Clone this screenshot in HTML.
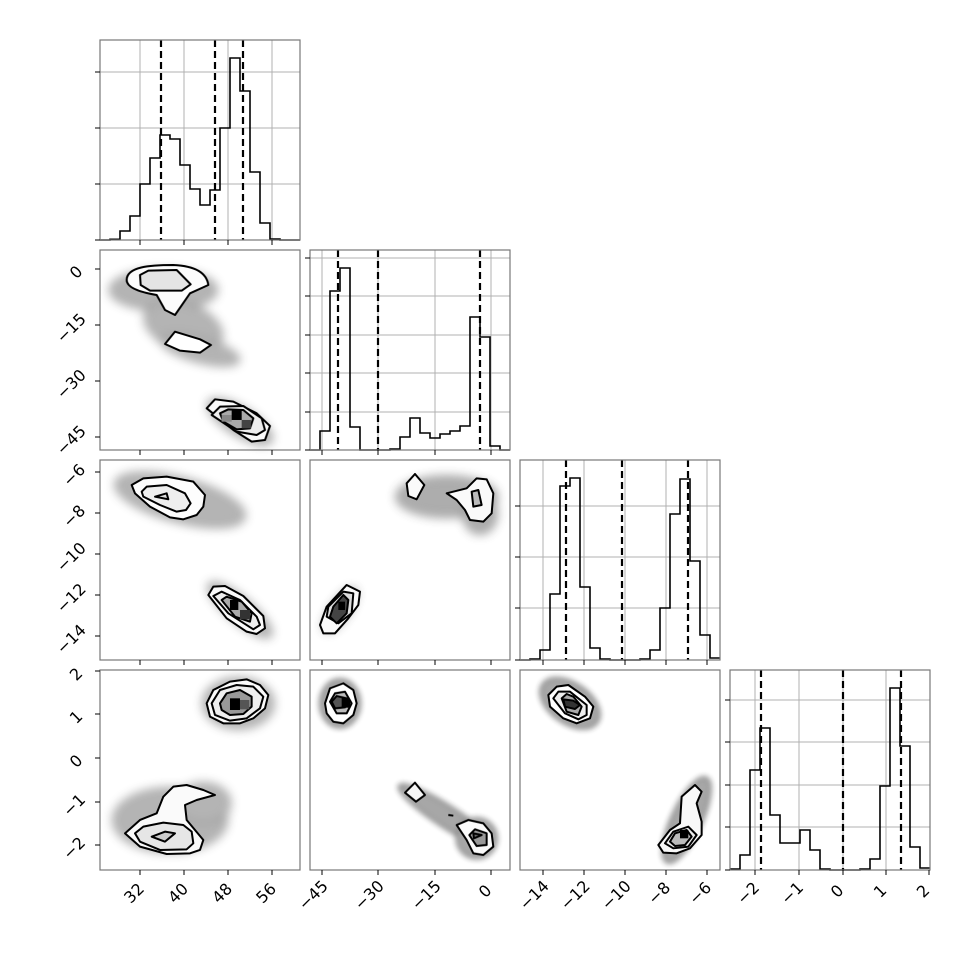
<!DOCTYPE html>
<html><head><meta charset="utf-8"><style>
html,body{margin:0;padding:0;background:#fff;}
svg{display:block;font-family:"DejaVu Sans","Liberation Sans",sans-serif;}
</style></head><body>
<svg width="970" height="970" viewBox="0 0 970 970" xmlns="http://www.w3.org/2000/svg">
<defs>
<filter id="b" x="-50%" y="-50%" width="200%" height="200%"><feGaussianBlur stdDeviation="14"/></filter>
<filter id="b2" x="-50%" y="-50%" width="200%" height="200%"><feGaussianBlur stdDeviation="8"/></filter>
</defs>
<rect width="970" height="970" fill="#fff"/>

<g stroke="#b0b0b0" stroke-width="1">
<line x1="140" y1="40" x2="140" y2="240"/><line x1="184" y1="40" x2="184" y2="240"/><line x1="228" y1="40" x2="228" y2="240"/><line x1="272" y1="40" x2="272" y2="240"/>
<line x1="100" y1="72" x2="300" y2="72"/><line x1="100" y1="128" x2="300" y2="128"/><line x1="100" y1="184" x2="300" y2="184"/>
<line x1="322" y1="250" x2="322" y2="450"/><line x1="378" y1="250" x2="378" y2="450"/><line x1="435" y1="250" x2="435" y2="450"/><line x1="491" y1="250" x2="491" y2="450"/>
<line x1="310" y1="258" x2="510" y2="258"/><line x1="310" y1="296" x2="510" y2="296"/><line x1="310" y1="335" x2="510" y2="335"/><line x1="310" y1="373" x2="510" y2="373"/><line x1="310" y1="412" x2="510" y2="412"/>
<line x1="543" y1="460" x2="543" y2="660"/><line x1="584" y1="460" x2="584" y2="660"/><line x1="625" y1="460" x2="625" y2="660"/><line x1="666" y1="460" x2="666" y2="660"/><line x1="707" y1="460" x2="707" y2="660"/>
<line x1="520" y1="506" x2="720" y2="506"/><line x1="520" y1="557" x2="720" y2="557"/><line x1="520" y1="608" x2="720" y2="608"/>
<line x1="755" y1="670" x2="755" y2="870"/><line x1="799" y1="670" x2="799" y2="870"/><line x1="843" y1="670" x2="843" y2="870"/><line x1="886" y1="670" x2="886" y2="870"/>
<line x1="730" y1="700" x2="930" y2="700"/><line x1="730" y1="742" x2="930" y2="742"/><line x1="730" y1="785" x2="930" y2="785"/><line x1="730" y1="827" x2="930" y2="827"/>
</g>

<g fill="none" stroke="#000" stroke-width="1.6">
<path d="M100,240 L110,240 L110,239.3 L120,239.3 L120,231 L130,231 L130,216 L140,216 L140,184 L150,184 L150,158 L160,158 L160,135 L170,135 L170,139 L180,139 L180,165 L190,165 L190,189 L200,189 L200,205 L210,205 L210,190 L220,190 L220,128 L230,128 L230,58 L240,58 L240,91 L250,91 L250,172 L260,172 L260,223 L270,223 L270,239 L280,239 L280,240 L300,240"/>
<path d="M310,450 L320,450 L320,431 L330,431 L330,291 L340,291 L340,268 L350,268 L350,427 L360,427 L360,450 L390,450 L390,449 L400,449 L400,437 L410,437 L410,418 L420,418 L420,433 L430,433 L430,438 L440,438 L440,434 L450,434 L450,431 L460,431 L460,426 L470,426 L470,317 L480,317 L480,337 L490,337 L490,446 L500,446 L500,450 L510,450"/>
<path d="M520,660 L530,660 L530,659 L540,659 L540,650 L550,650 L550,594 L560,594 L560,486 L570,486 L570,478 L580,478 L580,587 L590,587 L590,648 L600,648 L600,659 L610,659 L610,660 L640,660 L640,659 L650,659 L650,650 L660,650 L660,608 L670,608 L670,514 L680,514 L680,479 L690,479 L690,561 L700,561 L700,635 L710,635 L710,658 L720,658"/>
<path d="M730,869 L740,869 L740,855 L750,855 L750,770 L760,770 L760,728 L770,728 L770,815 L780,815 L780,843 L800,843 L800,830 L810,830 L810,850 L820,850 L820,869 L830,869 L830,870 L860,870 L860,869 L870,869 L870,859 L880,859 L880,786 L890,786 L890,688 L900,688 L900,746 L910,746 L910,847 L920,847 L920,868 L930,868"/>
</g>
<g stroke="#000" stroke-width="2.2" stroke-dasharray="7,4">
<line x1="161" y1="40" x2="161" y2="240"/><line x1="215" y1="40" x2="215" y2="240"/><line x1="243" y1="40" x2="243" y2="240"/>
<line x1="338" y1="250" x2="338" y2="450"/><line x1="378" y1="250" x2="378" y2="450"/><line x1="480" y1="250" x2="480" y2="450"/>
<line x1="566" y1="460" x2="566" y2="660"/><line x1="622" y1="460" x2="622" y2="660"/><line x1="688" y1="460" x2="688" y2="660"/>
<line x1="761" y1="670" x2="761" y2="870"/><line x1="843" y1="670" x2="843" y2="870"/><line x1="901" y1="670" x2="901" y2="870"/>
</g>

<g stroke="#000" stroke-width="6" stroke-linejoin="round">
<!-- (0,1) -->
<g transform="translate(100,250) scale(0.3333)">
<g filter="url(#b)" fill="#777" opacity="0.55">
<ellipse cx="190" cy="120" rx="160" ry="60"/>
<ellipse cx="250" cy="230" rx="120" ry="70" transform="rotate(20 250 230)"/>
<ellipse cx="300" cy="300" rx="120" ry="35" transform="rotate(15 300 300)"/>
<ellipse cx="420" cy="515" rx="110" ry="40" transform="rotate(32 420 515)"/>
</g>
<path d="M80,90 C80,50 150,45 220,45 C290,48 320,70 325,105 L270,130 L225,195 L195,180 L170,135 C110,125 80,110 80,90Z" fill="#fcfcfc"/>
<polygon points="120,75 145,62 230,60 272,103 245,122 150,122 122,105" fill="#e4e4e4"/>
<polygon points="195,282 225,245 300,268 333,285 300,308 240,302" fill="#fff"/>
<polygon points="320,475 345,448 400,455 470,490 510,528 495,570 455,575 400,540" fill="#fafafa"/>
<polygon points="335,495 360,470 430,468 485,505 495,540 470,555 410,545" fill="#eee"/>
<polygon points="360,490 385,478 430,480 460,505 450,535 410,538 370,515" fill="#aaa"/>
<rect x="395" y="480" width="30" height="30" fill="#000" stroke="none"/>
<rect x="425" y="510" width="28" height="25" fill="#444" stroke="none"/>
<rect x="365" y="495" width="30" height="20" fill="#888" stroke="none"/>
</g>
<!-- (0,2) -->
<g transform="translate(100,460) scale(0.3333)">
<g filter="url(#b)" fill="#777" opacity="0.55">
<ellipse cx="240" cy="120" rx="200" ry="65" transform="rotate(15 240 120)"/>
<ellipse cx="420" cy="450" rx="120" ry="35" transform="rotate(40 420 450)"/>
</g>
<polygon points="95,75 130,55 200,50 280,65 315,105 310,140 290,165 250,178 210,172 150,140 105,100" fill="#fdfdfd"/>
<polygon points="125,95 140,80 200,75 255,100 272,130 258,150 230,155 180,135 130,110" fill="#eee"/>
<polygon points="165,110 200,100 205,118" fill="#ddd"/>
<polygon points="325,405 340,380 375,378 430,408 490,468 495,505 470,522 440,515 380,475" fill="#fafafa"/>
<polygon points="340,408 365,395 420,420 470,470 480,495 460,508 385,460" fill="#eee"/>
<polygon points="365,420 380,410 425,425 455,460 450,485 405,470" fill="#aaa"/>
<rect x="390" y="420" width="25" height="30" fill="#000" stroke="none"/>
<rect x="420" y="450" width="30" height="28" fill="#333" stroke="none"/>
</g>
<!-- (0,3) -->
<g transform="translate(100,670) scale(0.3333)">
<g filter="url(#b)" fill="#777" opacity="0.55">
<ellipse cx="415" cy="100" rx="105" ry="75"/>
<ellipse cx="210" cy="450" rx="170" ry="95"/>
<ellipse cx="310" cy="400" rx="80" ry="60"/>
</g>
<polygon points="320,100 340,60 390,35 440,28 480,45 505,75 495,115 460,145 420,160 370,160 330,140" fill="#fafafa"/>
<polygon points="335,100 360,60 410,45 460,50 490,80 480,115 440,145 390,152 345,135" fill="#eee"/>
<polygon points="360,100 380,70 420,60 455,80 455,110 430,132 390,135 365,120" fill="#999"/>
<rect x="390" y="85" width="30" height="35" fill="#000" stroke="none"/>
<rect x="420" y="90" width="28" height="28" fill="#555" stroke="none"/>
<polygon points="75,490 120,450 170,430 190,380 220,350 260,345 310,360 345,375 290,390 255,405 260,450 310,510 300,540 270,550 200,552 120,530" fill="#fafafa"/>
<polygon points="105,490 130,470 190,458 250,465 275,485 280,520 260,538 180,540 120,515" fill="#e6e6e6"/>
<polygon points="155,500 195,485 225,490 195,515" fill="#ccc"/>
</g>
<!-- (1,2) -->
<g transform="translate(310,460) scale(0.3333)">
<g filter="url(#b)" fill="#777" opacity="0.6">
<ellipse cx="410" cy="110" rx="150" ry="60"/>
<ellipse cx="510" cy="160" rx="50" ry="60"/>
<ellipse cx="90" cy="450" rx="75" ry="25" transform="rotate(-55 90 450)"/>
</g>
<polygon points="290,70 315,42 343,75 320,118 295,108" fill="#fafafa"/>
<polygon points="410,100 470,85 500,55 530,58 550,100 545,160 520,185 480,180 465,150 440,120" fill="#fafafa"/>
<polygon points="485,95 505,90 515,135 490,140" fill="#bbb"/>
<polygon points="30,495 50,440 110,375 150,395 145,435 115,475 75,520 40,520" fill="#fafafa"/>
<polygon points="50,470 55,440 100,395 130,400 125,460 85,490" fill="#ddd"/>
<polygon points="60,470 70,440 100,405 115,420 110,460 80,490" fill="#444"/>
<rect x="85" y="425" width="20" height="25" fill="#000" stroke="none"/>
</g>
<!-- (1,3) -->
<g transform="translate(310,670) scale(0.3333)">
<g filter="url(#b2)" fill="#777" opacity="0.65">
<ellipse cx="90" cy="100" rx="60" ry="72"/>
<ellipse cx="410" cy="440" rx="170" ry="32" transform="rotate(33 410 440)"/>
<ellipse cx="500" cy="505" rx="60" ry="60"/>
</g>
<polygon points="45,100 60,55 100,40 130,60 140,100 130,135 100,160 70,155 50,130" fill="#fff"/>
<polygon points="60,95 75,70 105,65 125,100 110,130 80,130" fill="#bbb"/>
<polygon points="65,95 80,78 110,85 118,100 105,112 75,115" fill="#555"/>
<rect x="95" y="85" width="25" height="28" fill="#000" stroke="none"/>
<polygon points="285,368 315,338 345,375 318,395" fill="#f5f5f5"/>
<polygon points="440,465 475,450 520,460 545,490 550,530 520,555 490,550 470,510" fill="#fafafa"/>
<polygon points="478,495 495,478 530,490 530,525 500,528" fill="#999"/>
<polygon points="490,490 515,495 492,505" fill="#666"/>
<line x1="415" y1="435" x2="430" y2="437"/>
</g>
<!-- (2,3) -->
<g transform="translate(520,670) scale(0.3333)">
<g filter="url(#b2)" fill="#777" opacity="0.65">
<ellipse cx="150" cy="100" rx="100" ry="60" transform="rotate(35 150 100)"/>
<ellipse cx="500" cy="450" rx="140" ry="45" transform="rotate(-65 500 450)"/>
</g>
<polygon points="85,75 110,50 145,45 195,80 220,110 210,145 170,160 130,145 90,110" fill="#fff"/>
<polygon points="100,85 115,65 150,65 200,105 200,135 175,148 135,130" fill="#eee"/>
<polygon points="125,85 140,72 160,80 185,110 175,135 140,125" fill="#aaa"/>
<polygon points="130,88 160,92 180,105 165,117 135,110" fill="#333"/>
<polygon points="415,525 450,480 480,460 485,380 525,345 545,365 530,400 545,455 545,495 510,535 470,550 430,548" fill="#f8f8f8"/>
<polygon points="435,520 460,485 505,470 530,495 505,530 460,535" fill="#eee"/>
<polygon points="450,515 465,490 500,480 515,500 495,525 465,528" fill="#bbb"/>
<rect x="480" y="480" width="25" height="25" fill="#000" stroke="none"/>
</g>
</g>

<g fill="none" stroke="#777" stroke-width="1.2">
<rect x="100" y="40" width="200" height="200"/>
<rect x="100" y="250" width="200" height="200"/><rect x="310" y="250" width="200" height="200"/>
<rect x="100" y="460" width="200" height="200"/><rect x="310" y="460" width="200" height="200"/><rect x="520" y="460" width="200" height="200"/>
<rect x="100" y="670" width="200" height="200"/><rect x="310" y="670" width="200" height="200"/><rect x="520" y="670" width="200" height="200"/><rect x="730" y="670" width="200" height="200"/>
</g>

<g stroke="#000" stroke-width="1">
<path d="M140,240v5M184,240v5M228,240v5M272,240v5
M140,450v5M184,450v5M228,450v5M272,450v5 M322,450v5M378,450v5M435,450v5M491,450v5
M140,660v5M184,660v5M228,660v5M272,660v5 M322,660v5M378,660v5M435,660v5M491,660v5 M543,660v5M584,660v5M625,660v5M666,660v5M707,660v5
M140,870v5M184,870v5M228,870v5M272,870v5 M322,870v5M378,870v5M435,870v5M491,870v5 M543,870v5M584,870v5M625,870v5M666,870v5M707,870v5 M755,870v5M799,870v5M843,870v5M886,870v5M929,870v5"/>
<path d="M100,72h-5M100,128h-5M100,184h-5M100,240h-5
M100,269h-5M100,325h-5M100,381h-5M100,437h-5
M100,472h-5M100,513h-5M100,554h-5M100,595h-5M100,636h-5
M100,671h-5M100,714h-5M100,758h-5M100,802h-5M100,845h-5
M310,258h-5M310,296h-5M310,335h-5M310,373h-5M310,412h-5M310,450h-5
M520,506h-5M520,557h-5M520,608h-5M520,660h-5
M730,700h-5M730,742h-5M730,785h-5M730,827h-5M730,870h-5"/>
</g>

<g font-size="16" fill="#000" text-anchor="middle">
<text transform="translate(80,276) rotate(-45)">0</text>
<text transform="translate(75,332) rotate(-45)">−15</text>
<text transform="translate(75,388) rotate(-45)">−30</text>
<text transform="translate(75,444) rotate(-45)">−45</text>
<text transform="translate(78,479) rotate(-45)">−6</text>
<text transform="translate(78,520) rotate(-45)">−8</text>
<text transform="translate(75,561) rotate(-45)">−10</text>
<text transform="translate(75,602) rotate(-45)">−12</text>
<text transform="translate(75,643) rotate(-45)">−14</text>
<text transform="translate(80,678) rotate(-45)">2</text>
<text transform="translate(80,721) rotate(-45)">1</text>
<text transform="translate(80,765) rotate(-45)">0</text>
<text transform="translate(78,809) rotate(-45)">−1</text>
<text transform="translate(78,852) rotate(-45)">−2</text>

<text transform="translate(138,897) rotate(-45)">32</text>
<text transform="translate(182,897) rotate(-45)">40</text>
<text transform="translate(226,897) rotate(-45)">48</text>
<text transform="translate(270,897) rotate(-45)">56</text>
<text transform="translate(317,899) rotate(-45)">−45</text>
<text transform="translate(373,899) rotate(-45)">−30</text>
<text transform="translate(430,899) rotate(-45)">−15</text>
<text transform="translate(489,895) rotate(-45)">0</text>
<text transform="translate(538,899) rotate(-45)">−14</text>
<text transform="translate(579,899) rotate(-45)">−12</text>
<text transform="translate(620,899) rotate(-45)">−10</text>
<text transform="translate(663,897) rotate(-45)">−8</text>
<text transform="translate(704,897) rotate(-45)">−6</text>
<text transform="translate(752,897) rotate(-45)">−2</text>
<text transform="translate(796,897) rotate(-45)">−1</text>
<text transform="translate(841,895) rotate(-45)">0</text>
<text transform="translate(884,895) rotate(-45)">1</text>
<text transform="translate(927,895) rotate(-45)">2</text>
</g>
</svg>
</body></html>
